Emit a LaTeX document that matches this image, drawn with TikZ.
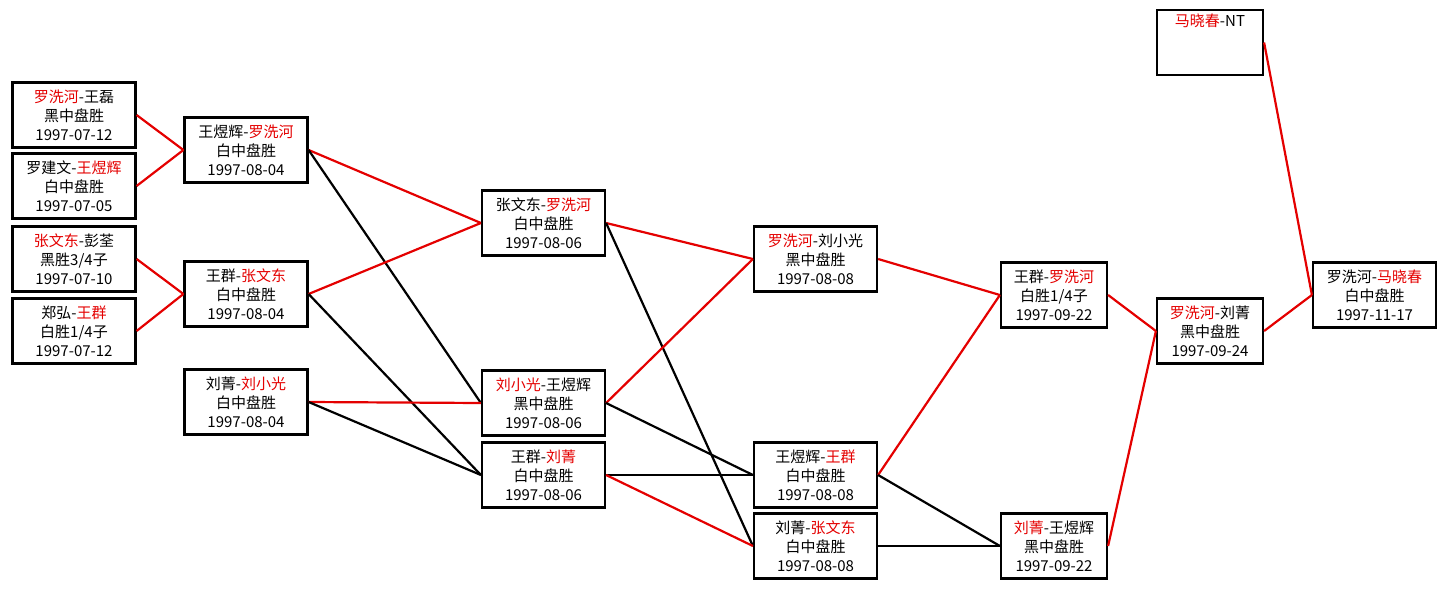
\documentclass[tikz,border=0pt]{standalone}
\usepackage{fontspec}
\setmainfont{Noto Sans CJK SC}
\usepackage{xcolor}
\definecolor{winred}{RGB}{228,0,0}
\newcommand{\win}[1]{\textcolor{winred}{#1}}
\tikzset{
  game/.style={draw, line width=2.2pt, minimum height=65pt, inner sep=0pt, align=center, font=\fontsize{15}{19}\selectfont},
  wide/.style={game, minimum width=123pt},
  narrow/.style={game, minimum width=106pt}
}

\begin{document}
\begin{tikzpicture}[x=1pt,y=-1pt]
\useasboundingbox (0,0) rectangle (1446,589);
% round 1
\node[wide] (r1a) at (74,115) {\win{罗洗河}-王磊\\黑中盘胜\\1997-07-12};
\node[wide] (r1b) at (74,186) {罗建文-\win{王煜辉}\\白中盘胜\\1997-07-05};
\node[wide] (r1c) at (74,259) {\win{张文东}-彭荃\\黑胜3/4子\\1997-07-10};
\node[wide] (r1d) at (74,331) {郑弘-\win{王群}\\白胜1/4子\\1997-07-12};
% round 2
\node[wide] (r2a) at (246,150) {王煜辉-\win{罗洗河}\\白中盘胜\\1997-08-04};
\node[wide] (r2b) at (246,294) {王群-\win{张文东}\\白中盘胜\\1997-08-04};
\node[wide] (r2c) at (246,402) {刘菁-\win{刘小光}\\白中盘胜\\1997-08-04};
% round 3
\node[wide] (r3a) at (543.5,223) {张文东-\win{罗洗河}\\白中盘胜\\1997-08-06};
\node[wide] (r3b) at (543.5,403) {\win{刘小光}-王煜辉\\黑中盘胜\\1997-08-06};
\node[wide] (r3c) at (543.5,475) {王群-\win{刘菁}\\白中盘胜\\1997-08-06};
% round 4
\node[wide] (r4a) at (815.5,259) {\win{罗洗河}-刘小光\\黑中盘胜\\1997-08-08};
\node[wide] (r4b) at (815.5,475) {王煜辉-\win{王群}\\白中盘胜\\1997-08-08};
\node[wide] (r4c) at (815.5,546) {刘菁-\win{张文东}\\白中盘胜\\1997-08-08};
% round 5
\node[narrow] (r5a) at (1054,295) {王群-\win{罗洗河}\\白胜1/4子\\1997-09-22};
\node[narrow] (r5b) at (1054,546) {\win{刘菁}-王煜辉\\黑中盘胜\\1997-09-22};
% final
\node[narrow] (nt) at (1210,42.5) {\win{马晓春}-NT\\\strut\\\strut};
\node[narrow] (r6) at (1210,331) {\win{罗洗河}-刘菁\\黑中盘胜\\1997-09-24};
\node[wide] (fin) at (1374.5,295) {罗洗河-\win{马晓春}\\白中盘胜\\1997-11-17};
% connectors
\foreach \a/\b/\c in {r1a/r2a/winred, r1b/r2a/winred, r1c/r2b/winred, r1d/r2b/winred,
  r2a/r3a/winred, r2a/r3b/black, r2b/r3a/winred, r2b/r3c/black, r2c/r3b/winred, r2c/r3c/black,
  r3a/r4a/winred, r3a/r4c/black, r3b/r4a/winred, r3b/r4b/black, r3c/r4b/black, r3c/r4c/winred,
  r4a/r5a/winred, r4b/r5a/winred, r4b/r5b/black, r4c/r5b/black,
  r5a/r6/winred, r5b/r6/winred, r6/fin/winred, nt/fin/winred} {
\draw[\c, line width=2.2pt] (\a.east) -- (\b.west);
}
\end{tikzpicture}
\end{document}
